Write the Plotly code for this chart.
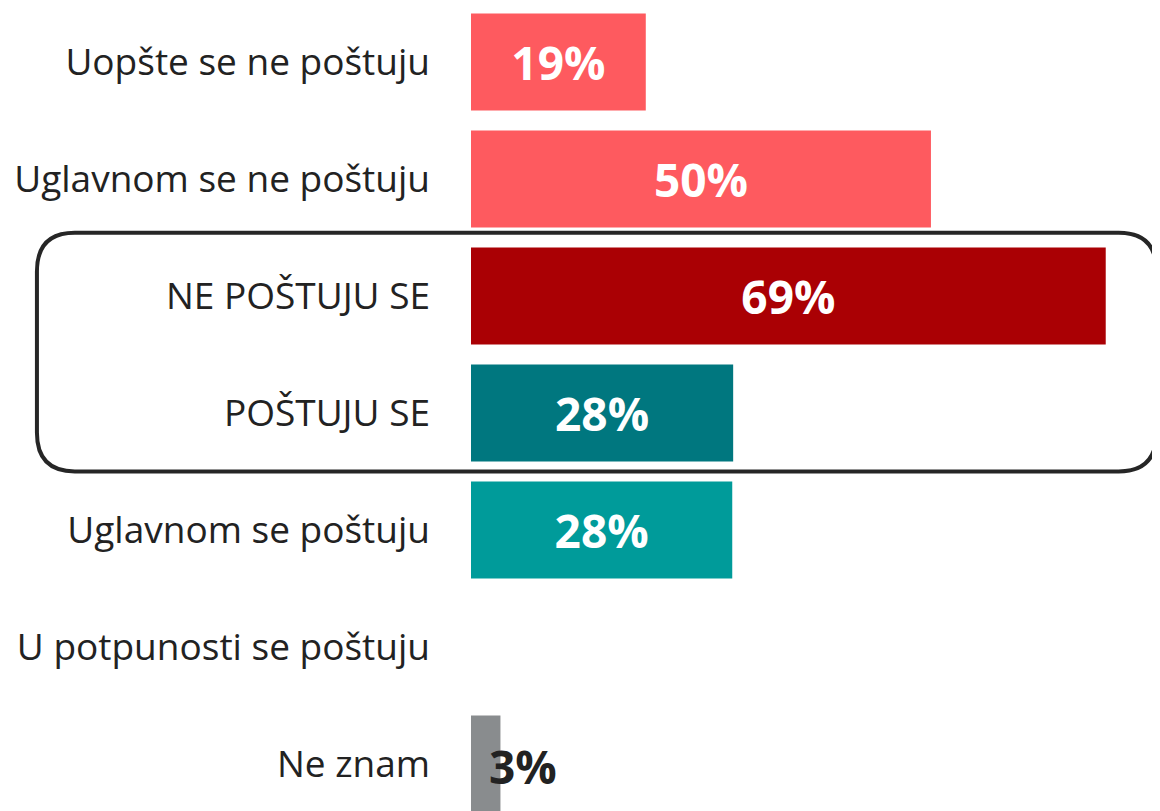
import plotly.graph_objects as go

categories = [
    "Uopšte se ne poštuju",
    "Uglavnom se ne poštuju",
    "NE POŠTUJU SE",
    "POŠTUJU SE",
    "Uglavnom se poštuju",
    "U potpunosti se poštuju",
    "Ne znam",
]
values = [19, 50, 69, 28.5, 28.4, 0, 3.2]
value_labels = ["19%", "50%", "69%", "28%", "28%", "", "3%"]
bar_colors = ["#FE5A5F", "#FE5A5F", "#AA0004", "#00777F", "#009B9A", "#009B9A", "#898C8E"]

n = len(categories)
ypos = list(range(n))
inside_text = [t if v >= 10 else "" for t, v in zip(value_labels, values)]

fig = go.Figure()
fig.add_trace(go.Bar(
    y=ypos, x=values, orientation="h",
    marker=dict(color=bar_colors, line=dict(width=0)),
    width=0.83,
    text=inside_text, textposition="inside", insidetextanchor="middle",
    textfont=dict(family="Open Sans", size=46, color="white", weight="bold"),
    constraintext="none",
    hoverinfo="skip",
))

annotations = []
for i, (v, t) in enumerate(zip(values, value_labels)):
    if t and v < 10:
        annotations.append(dict(
            x=v, y=i, xref="x", yref="y", text=t, showarrow=False,
            xanchor="left", yanchor="middle", xshift=-13, yshift=-2,
            font=dict(family="Open Sans", size=46, color="#222222", weight="bold"),
        ))

# rounded box around the two summary rows (indices 2 and 3)
y0, y1 = 2 - 0.54, 3 + 0.50
x0, x1 = -0.630, 0.995
rx, ry = 0.055, 0.33
path = (
    f"M {x0+rx},{y0} L {x1-rx},{y0} Q {x1},{y0} {x1},{y0+ry} "
    f"L {x1},{y1-ry} Q {x1},{y1} {x1-rx},{y1} "
    f"L {x0+rx},{y1} Q {x0},{y1} {x0},{y1-ry} "
    f"L {x0},{y0+ry} Q {x0},{y0} {x0+rx},{y0} Z"
)
shapes = [dict(type="path", path=path, xref="paper", yref="y",
               line=dict(color="#262626", width=4), layer="above")]

fig.update_layout(
    width=1152, height=803,
    margin=dict(l=463, r=0, t=0, b=0),
    paper_bgcolor="white", plot_bgcolor="white",
    showlegend=False,
    bargap=0.17,
    xaxis=dict(range=[0, 74.9], visible=False, fixedrange=True),
    yaxis=dict(
        range=[6.402, -0.4615], tickvals=ypos, ticktext=categories,
        showgrid=False, zeroline=False, showline=False, ticks="",
        ticklabelstandoff=40,
        tickfont=dict(family="Open Sans", size=37, color="#222222"),
        fixedrange=True,
    ),
    annotations=annotations,
    shapes=shapes,
)

fig.write_html("out.html")
